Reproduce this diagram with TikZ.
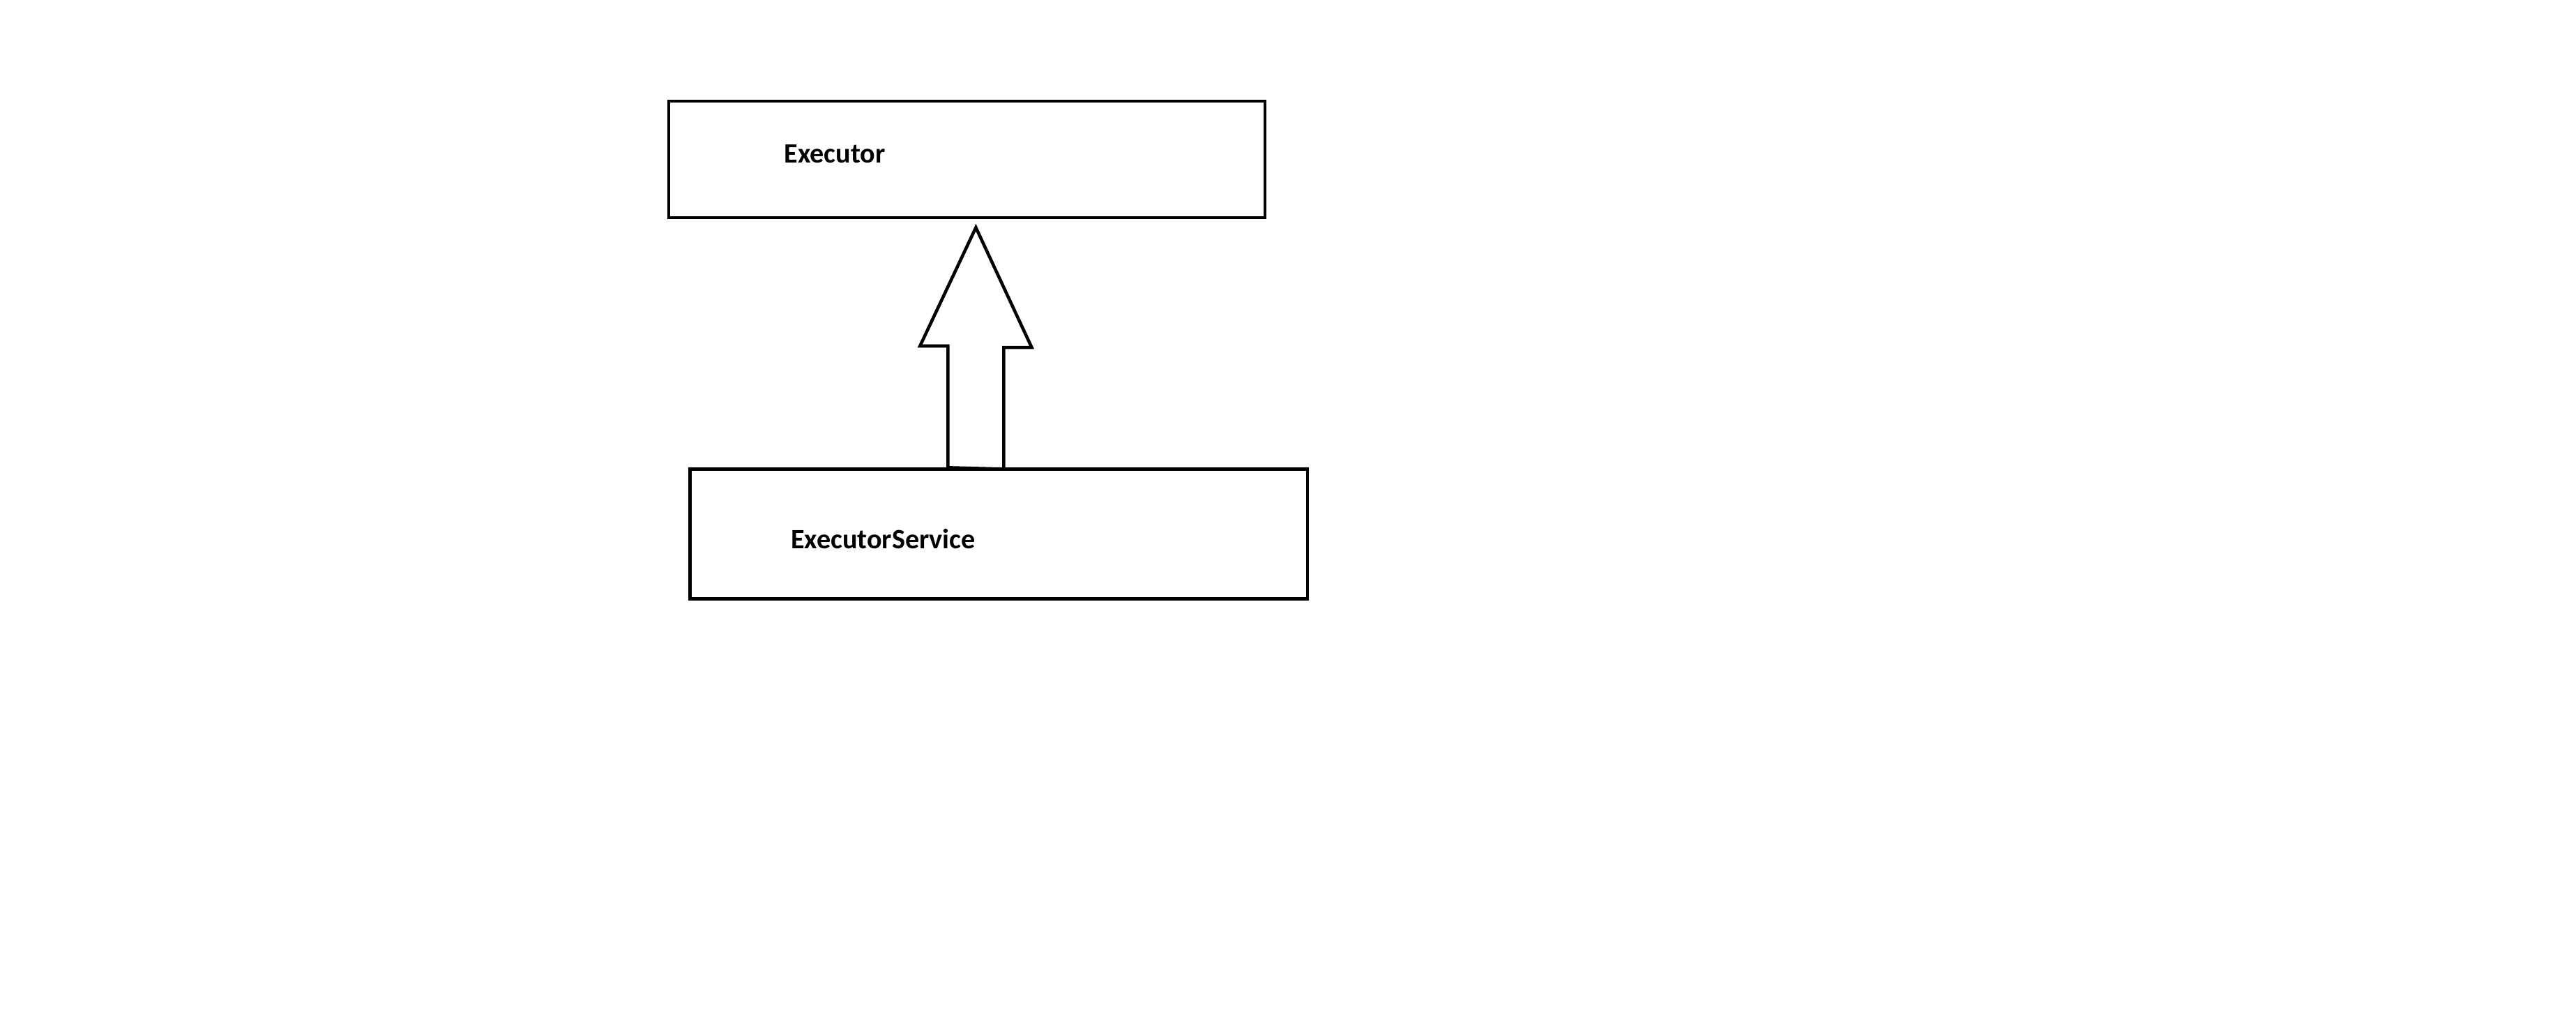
\documentclass[tikz,border=0pt]{standalone}
\usepackage{fontspec}
\setmainfont{Carlito}
\usetikzlibrary{positioning}

\tikzset{
  boks/.style={draw,line width=1.1pt,inner sep=0pt},
  tekst/.style={inner sep=0pt,anchor=base west,font=\fontsize{9.7}{11}\selectfont\bfseries},
  pil/.style={draw,line width=1.1pt,line join=miter,fill=white}
}

\begin{document}
\begin{tikzpicture}[x=0.02cm,y=-0.02cm]
  %ramme, samme forhold som originalen
  	\useasboundingbox (0,0) rectangle (1568,623.1);

  %boksene
  	\node[boks,minimum width=7.26cm,minimum height=1.42cm] (exec) at (588.5,97) {};
  	\node[boks,minimum width=7.52cm,minimum height=1.58cm] (esvc) at (608,325) {};

  %navn i boksene
  	\node[tekst] (execnavn) at (477,99) {Executor};
  	\node[tekst] (esvcnavn) at (481,334) {ExecutorService};

  %arv-pil fra ExecutorService opp til Executor
  	\coordinate (fot) at (esvc.north -| 594,0);
  	\coordinate (spiss) at ([yshift=-0.1cm]exec.south -| 594,0);
  	\draw[pil] (fot) ++(-17,0) -- ++(0,-74) -- ++(-17,0) -- (spiss)
  		-- ++(34,73) -- ++(-17,0) -- ++(0,74) -- cycle;
\end{tikzpicture}
\end{document}
